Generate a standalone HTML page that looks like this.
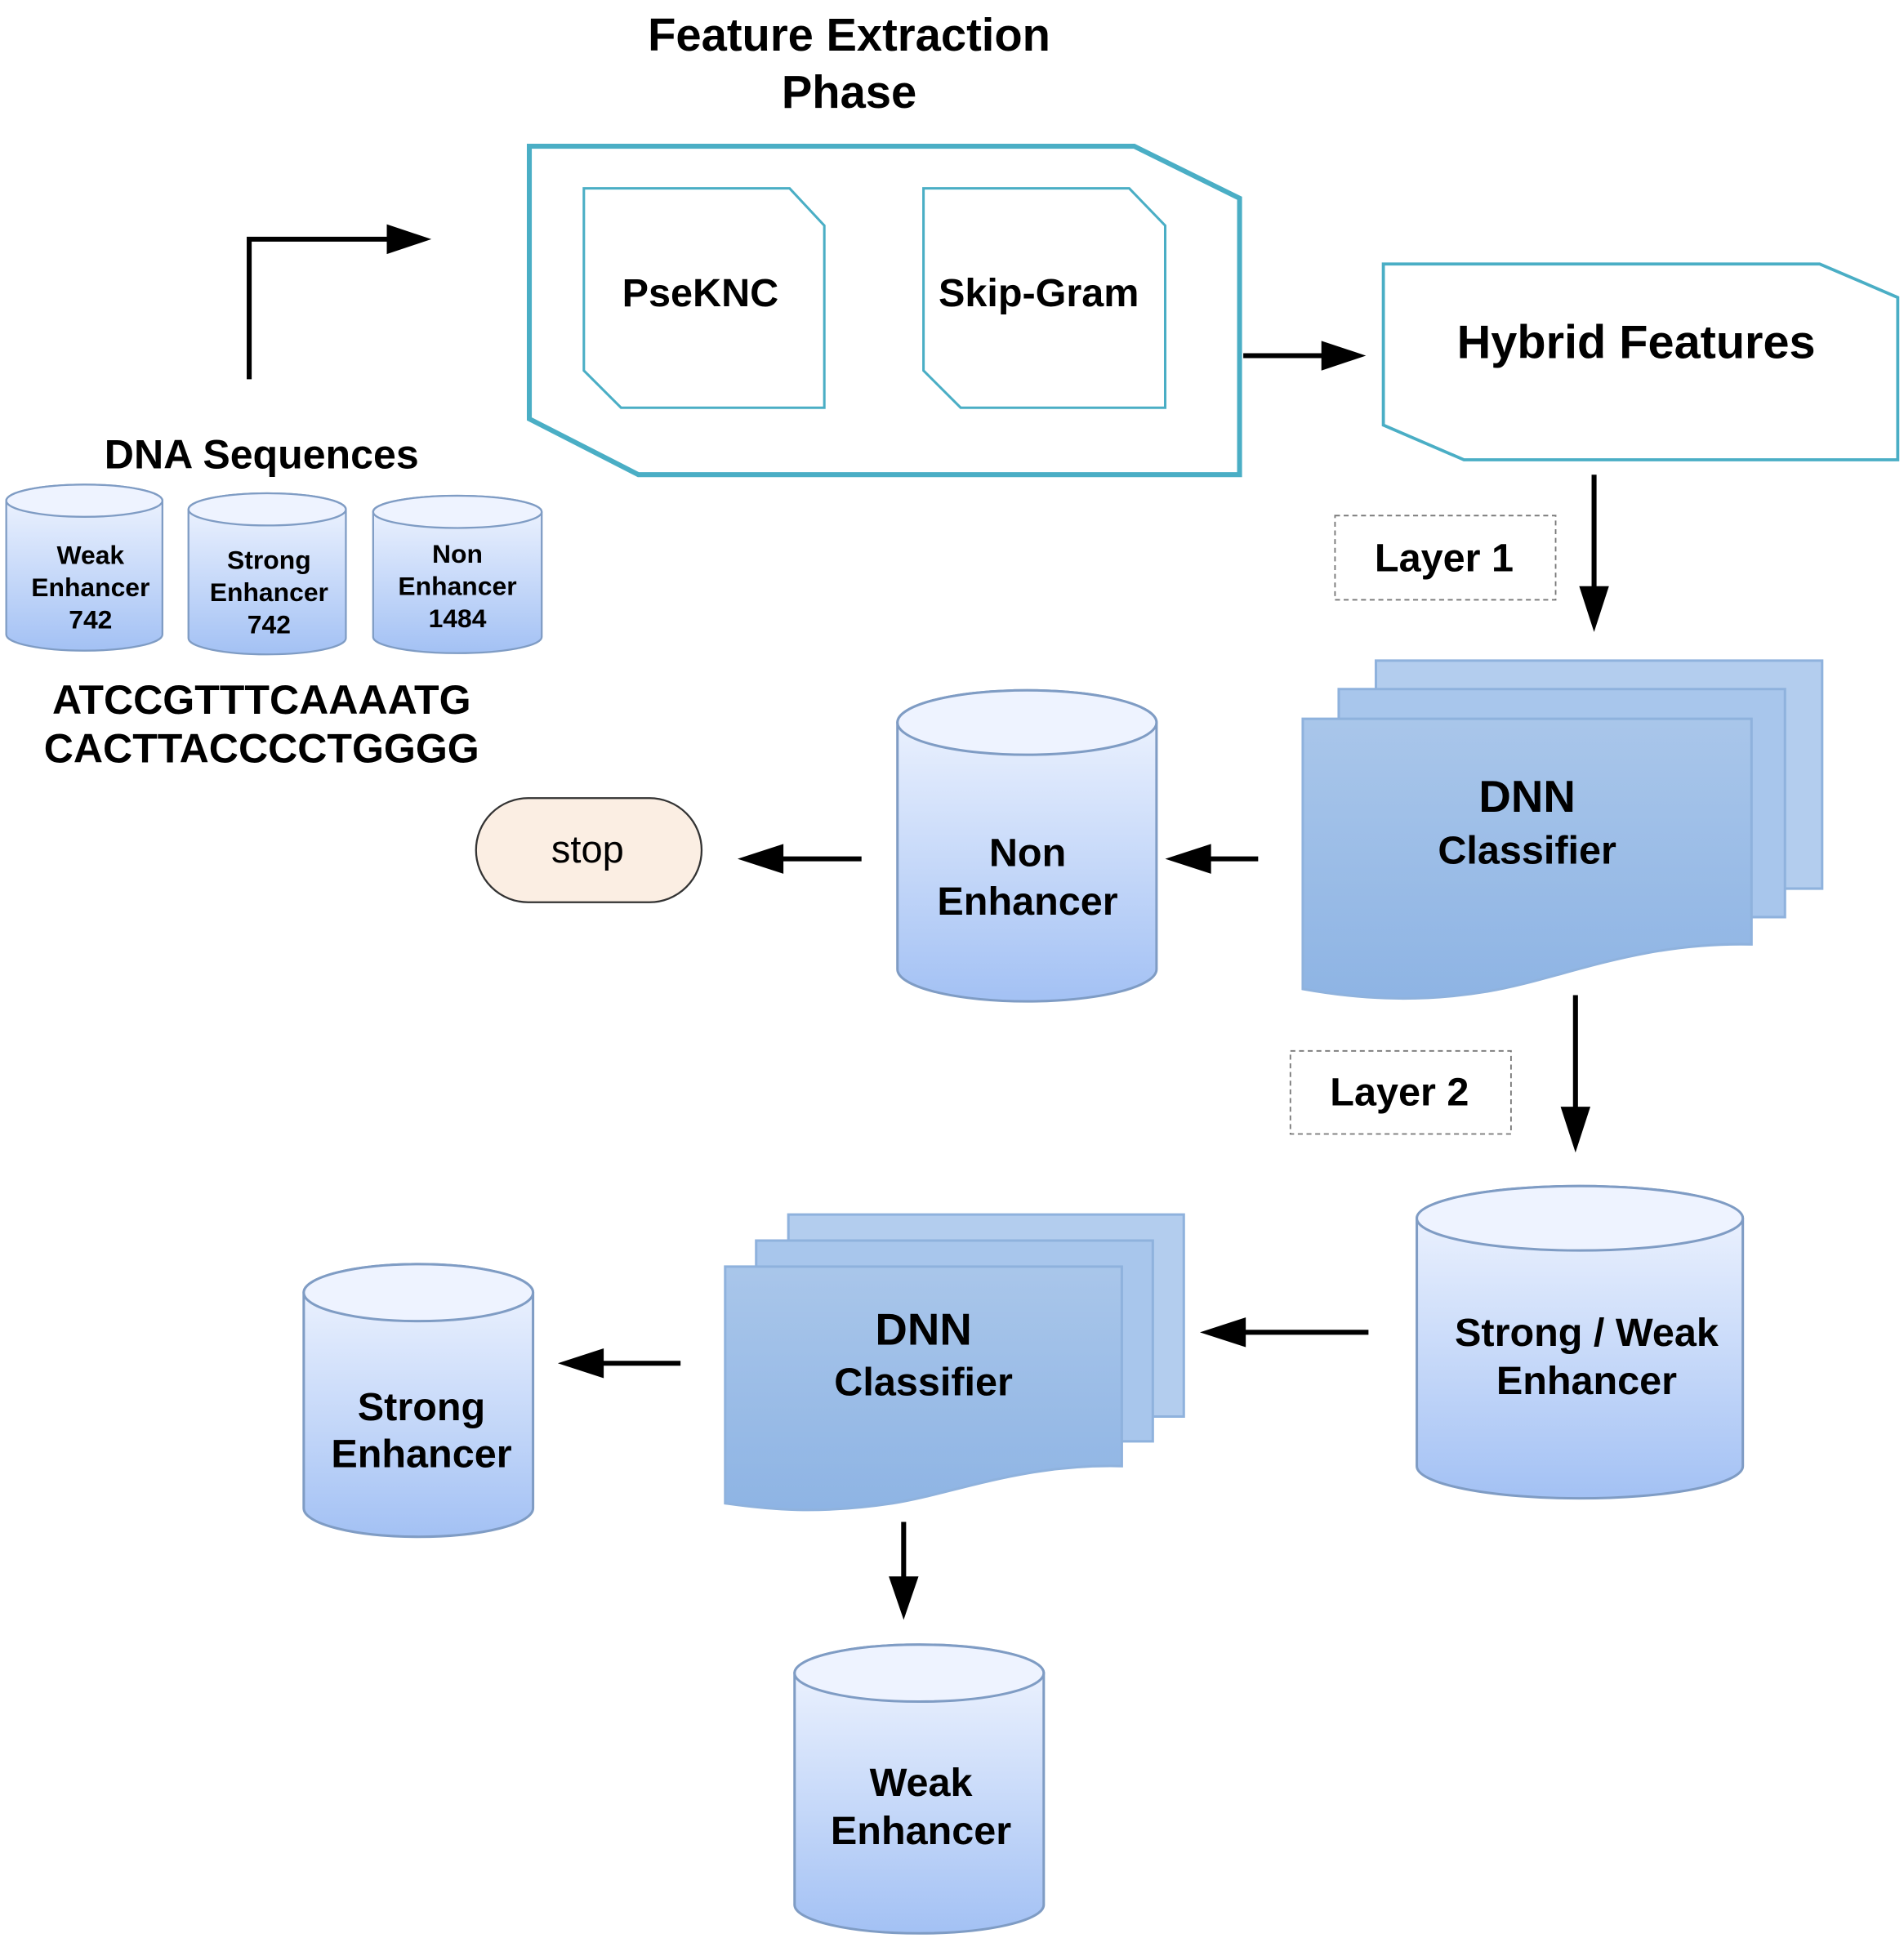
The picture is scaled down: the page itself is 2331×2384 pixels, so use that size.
<!DOCTYPE html>
<html><head><meta charset="utf-8"><style>
html,body{margin:0;padding:0;background:#fff;}
svg{display:block;}
text{font-family:"Liberation Sans",Arial,sans-serif;font-weight:bold;fill:#000;text-anchor:middle;}
</style></head><body>
<svg width="2331" height="2384" viewBox="0 0 1536 1571" xmlns="http://www.w3.org/2000/svg">
<defs>
<linearGradient id="cyl" x1="0" y1="0" x2="0" y2="1">
<stop offset="0" stop-color="#f2f6ff"/><stop offset="1" stop-color="#a3c1f4"/></linearGradient>
<linearGradient id="pg" x1="0" y1="0" x2="0" y2="1">
<stop offset="0" stop-color="#a9c6ea"/><stop offset="1" stop-color="#8eb4e4"/></linearGradient>
</defs>
<rect width="1536" height="1571" fill="#fff"/>

<text x="685" y="41" font-size="37">Feature Extraction</text>
<text x="685" y="87" font-size="37">Phase</text>

<polygon points="427,118 915,118 1000,160 1000,383 515,383 427,338" fill="#fff" stroke="#4aaec5" stroke-width="4"/>
<polygon points="471,152 637,152 665,182 665,329 501,329 471,299" fill="#fff" stroke="#4aaec5" stroke-width="2"/>
<polygon points="745,152 911,152 940,182 940,329 775,329 745,299" fill="#fff" stroke="#4aaec5" stroke-width="2"/>
<text x="565" y="247" font-size="32">PseKNC</text>
<text x="838" y="247" font-size="32">Skip-Gram</text>

<polygon points="1116,213 1468,213 1531,240 1531,371 1181,371 1116,343" fill="#fff" stroke="#4aaec5" stroke-width="2.5"/>
<text x="1320" y="289" font-size="38">Hybrid Features</text>

<g stroke="#000" stroke-width="4" fill="none">
<polyline points="201,306 201,193 315,193"/>
<line x1="1003" y1="287" x2="1068" y2="287"/>
<line x1="1286" y1="383" x2="1286" y2="475"/>
<line x1="1015" y1="693" x2="975" y2="693"/>
<line x1="695" y1="693" x2="630" y2="693"/>
<line x1="1271" y1="803" x2="1271" y2="895"/>
<line x1="1104" y1="1075" x2="1003" y2="1075"/>
<line x1="549" y1="1100" x2="485" y2="1100"/>
<line x1="729" y1="1228" x2="729" y2="1275"/>
</g>
<g fill="#000">
<polygon points="348,193 312,181 312,205"/>
<polygon points="1102,287 1066,275 1066,299"/>
<polygon points="1286,510 1274,473 1298,473"/>
<polygon points="940,693 977,681 977,705"/>
<polygon points="595,693 632,681 632,705"/>
<polygon points="1271,930 1259,893 1283,893"/>
<polygon points="968,1075 1005,1063 1005,1087"/>
<polygon points="450,1100 487,1088 487,1112"/>
<polygon points="729,1307 717,1272 741,1272"/>
</g>

<text x="211" y="378" font-size="33">DNA Sequences</text>
<g stroke="#7f9cc4" stroke-width="1.5">
<path d="M5,404 A63,13 0 0 1 131,404 L131,512 A63,13 0 0 1 5,512 Z" fill="url(#cyl)"/>
<ellipse cx="68" cy="404" rx="63" ry="13" fill="#eef3ff"/>
<path d="M152,411 A63.5,13 0 0 1 279,411 L279,515 A63.5,13 0 0 1 152,515 Z" fill="url(#cyl)"/>
<ellipse cx="215.5" cy="411" rx="63.5" ry="13" fill="#eef3ff"/>
<path d="M301,413 A68,13 0 0 1 437,413 L437,514 A68,13 0 0 1 301,514 Z" fill="url(#cyl)"/>
<ellipse cx="369" cy="413" rx="68" ry="13" fill="#eef3ff"/>
</g>
<g font-size="21">
<text x="73" y="455">Weak</text><text x="73" y="481">Enhancer</text><text x="73" y="507">742</text>
<text x="217" y="459">Strong</text><text x="217" y="485">Enhancer</text><text x="217" y="511">742</text>
<text x="369" y="454">Non</text><text x="369" y="480">Enhancer</text><text x="369" y="506">1484</text>
</g>
<text x="211" y="576" font-size="33">ATCCGTTTCAAAATG</text>
<text x="211" y="615" font-size="33">CACTTACCCCTGGGG</text>

<rect x="1077" y="416" width="178" height="68" fill="none" stroke="#777" stroke-width="1.2" stroke-dasharray="4,3"/>
<text x="1165" y="461" font-size="32">Layer 1</text>
<rect x="1041" y="848" width="178" height="67" fill="none" stroke="#777" stroke-width="1.2" stroke-dasharray="4,3"/>
<text x="1129" y="892" font-size="32">Layer 2</text>

<g stroke="#8fb2dd" stroke-width="2">
<path d="M1110,533 L1470,533 L1470,717 L1110,717 Z" fill="#b3cdee"/>
<path d="M1080,556 L1440,556 L1440,740 L1080,740 Z" fill="#a8c6ec"/>
<path d="M1051,580 L1413,580 L1413,762 C1320,760 1260,790 1200,800 C1140,810 1090,805 1051,798 Z" fill="url(#pg)"/>
</g>
<text x="1232" y="655" font-size="36">DNN</text>
<text x="1232" y="697" font-size="32">Classifier</text>

<g stroke="#8fb2dd" stroke-width="2">
<path d="M636,980 L955,980 L955,1143 L636,1143 Z" fill="#b3cdee"/>
<path d="M610,1001 L930,1001 L930,1163 L610,1163 Z" fill="#a8c6ec"/>
<path d="M585,1022 L905,1022 L905,1183 C825,1181 770,1205 720,1213 C660,1222 620,1218 585,1213 Z" fill="url(#pg)"/>
</g>
<text x="745" y="1085" font-size="36">DNN</text>
<text x="745" y="1126" font-size="32">Classifier</text>

<g stroke="#7f9cc4" stroke-width="2">
<path d="M724,583 A104.5,26 0 0 1 933,583 L933,782 A104.5,26 0 0 1 724,782 Z" fill="url(#cyl)"/>
<ellipse cx="828.5" cy="583" rx="104.5" ry="26" fill="#eef3ff"/>
<path d="M1143,983 A131.5,26 0 0 1 1406,983 L1406,1183 A131.5,26 0 0 1 1143,1183 Z" fill="url(#cyl)"/>
<ellipse cx="1274.5" cy="983" rx="131.5" ry="26" fill="#eef3ff"/>
<path d="M245,1043 A92.5,23 0 0 1 430,1043 L430,1217 A92.5,23 0 0 1 245,1217 Z" fill="url(#cyl)"/>
<ellipse cx="337.5" cy="1043" rx="92.5" ry="23" fill="#eef3ff"/>
<path d="M641,1350 A100.5,23 0 0 1 842,1350 L842,1537 A100.5,23 0 0 1 641,1537 Z" fill="url(#cyl)"/>
<ellipse cx="741.5" cy="1350" rx="100.5" ry="23" fill="#eef3ff"/>
</g>
<g font-size="32">
<text x="829" y="699">Non</text><text x="829" y="738">Enhancer</text>
<text x="1280" y="1086">Strong / Weak</text><text x="1280" y="1125">Enhancer</text>
<text x="340" y="1146">Strong</text><text x="340" y="1184">Enhancer</text>
<text x="743" y="1449">Weak</text><text x="743" y="1488">Enhancer</text>
</g>

<rect x="384" y="644" width="182" height="84" rx="42" fill="#fbeee3" stroke="#333" stroke-width="1.5"/>
<text x="474" y="696" font-size="31" style="font-weight:normal">stop</text>
</svg>
</body></html>
